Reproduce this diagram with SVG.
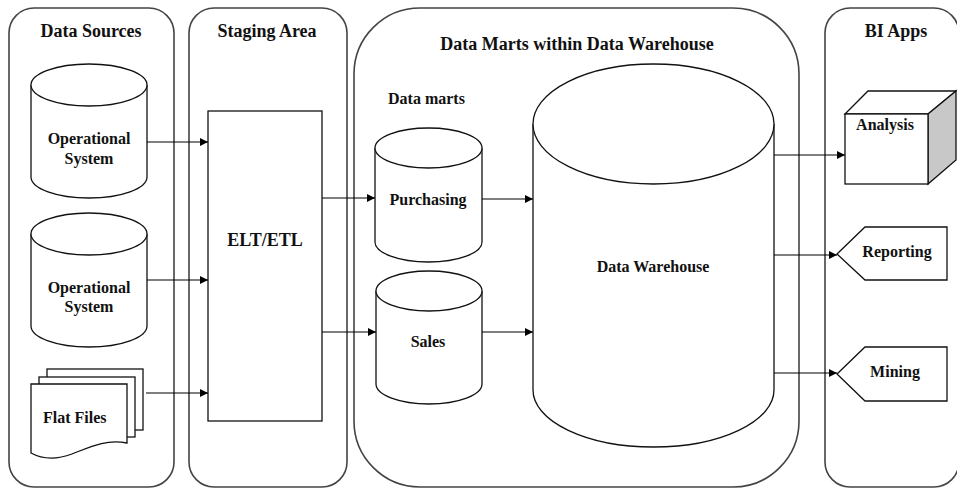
<svg xmlns="http://www.w3.org/2000/svg" width="957" height="488" viewBox="0 0 957 488">
  <defs>
    <marker id="arrow" viewBox="0 0 10 10" refX="10" refY="5" markerWidth="10" markerHeight="8" markerUnits="userSpaceOnUse" orient="auto">
      <path d="M0,0 L10,5 L0,10 Z" fill="#000"/>
    </marker>
  </defs>
  <style>
    .panel { fill: #fff; stroke: #444; stroke-width: 1.6; }
    .shape { fill: #fff; stroke: #111; stroke-width: 1.3; }
    .title { font-family: "Liberation Serif", "Times New Roman", serif; font-weight: bold; font-size: 18px; fill: #111; }
    .label { font-family: "Liberation Serif", "Times New Roman", serif; font-weight: bold; font-size: 16px; fill: #111; }
    .mid { text-anchor: middle; }
    .conn { fill: none; stroke: #000; stroke-width: 1.2; marker-end: url(#arrow); }
  </style>
  <rect width="957" height="488" fill="#fff"/>

  <!-- swimlane panels -->
  <g id="panel-sources">
    <rect class="panel" x="9" y="8" width="165" height="479" rx="25" ry="25"/>
    <text class="title mid" x="91" y="37">Data Sources</text>
  </g>
  <g id="panel-staging">
    <rect class="panel" x="189" y="8" width="158" height="479" rx="25" ry="25"/>
    <text class="title mid" x="267" y="37">Staging Area</text>
  </g>
  <g id="panel-marts">
    <rect class="panel" x="354" y="8" width="445" height="479" rx="66" ry="66"/>
    <text class="title mid" x="577" y="50">Data Marts within Data Warehouse</text>
    <text class="label" x="388" y="104">Data marts</text>
  </g>
  <g id="panel-bi">
    <rect class="panel" x="825" y="8" width="134" height="479" rx="25" ry="25"/>
    <text class="title mid" x="896" y="37">BI Apps</text>
  </g>

  <!-- data sources -->
  <g id="op-system-1">
    <path class="shape" d="M31,85 V177 A58,21 0 0 0 147,177 V85"/>
    <ellipse class="shape" cx="89" cy="85" rx="58" ry="21"/>
    <text class="label mid" x="89" y="144">Operational</text>
    <text class="label mid" x="89" y="164">System</text>
  </g>
  <g id="op-system-2">
    <path class="shape" d="M31,234 V326 A58,21 0 0 0 147,326 V234"/>
    <ellipse class="shape" cx="89" cy="234" rx="58" ry="21"/>
    <text class="label mid" x="89" y="293">Operational</text>
    <text class="label mid" x="89" y="312">System</text>
  </g>
  <g id="flat-files">
    <rect class="shape" x="47" y="369" width="96" height="61"/>
    <rect class="shape" x="39" y="377" width="96" height="60"/>
    <path class="shape" d="M31,384 H127 V443 C105,439 90,447 72,454 C56,460 42,459 31,453 Z"/>
    <text class="label" x="43" y="423">Flat Files</text>
  </g>

  <!-- staging -->
  <g id="elt-etl">
    <rect class="shape" x="208" y="111" width="114" height="310"/>
    <text class="title mid" x="265" y="246">ELT/ETL</text>
  </g>

  <!-- data marts -->
  <g id="purchasing">
    <path class="shape" d="M375,148 V242 A53.5,20 0 0 0 482,242 V148"/>
    <ellipse class="shape" cx="428.5" cy="148" rx="53.5" ry="20"/>
    <text class="label mid" x="428" y="205">Purchasing</text>
  </g>
  <g id="sales">
    <path class="shape" d="M376,291 V384 A53,20 0 0 0 482,384 V291"/>
    <ellipse class="shape" cx="429" cy="291" rx="53" ry="20"/>
    <text class="label mid" x="428" y="347">Sales</text>
  </g>
  <g id="data-warehouse">
    <path class="shape" d="M533,124 V390 A120.5,57 0 0 0 774,390 V124"/>
    <ellipse class="shape" cx="653.5" cy="124" rx="120.5" ry="60"/>
    <text class="label mid" x="653" y="272">Data Warehouse</text>
  </g>

  <!-- BI apps -->
  <g id="analysis">
    <polygon class="shape" points="845,114 868,91 956,91 928,114"/>
    <polygon class="shape" points="928,114 956,91 956,160 928,184" style="fill:#c8c8c8"/>
    <rect class="shape" x="845" y="114" width="83" height="70"/>
    <text class="label mid" x="885" y="130">Analysis</text>
  </g>
  <g id="reporting">
    <polygon class="shape" points="837,254 865,227 947,227 947,280 865,280"/>
    <text class="label mid" x="897" y="257">Reporting</text>
  </g>
  <g id="mining">
    <polygon class="shape" points="837,374 865,347 947,347 947,401 865,401"/>
    <text class="label mid" x="895" y="377">Mining</text>
  </g>

  <!-- connectors -->
  <g id="connectors">
    <line class="conn" x1="147" y1="142" x2="208" y2="142"/>
    <line class="conn" x1="147" y1="280" x2="208" y2="280"/>
    <line class="conn" x1="146" y1="393" x2="208" y2="393"/>
    <line class="conn" x1="322" y1="198" x2="375" y2="198"/>
    <line class="conn" x1="322" y1="332" x2="376" y2="332"/>
    <line class="conn" x1="482" y1="199" x2="533" y2="199"/>
    <line class="conn" x1="482" y1="332" x2="533" y2="332"/>
    <line class="conn" x1="774" y1="155" x2="845" y2="155"/>
    <line class="conn" x1="774" y1="255" x2="837" y2="255"/>
    <line class="conn" x1="774" y1="373" x2="837" y2="373"/>
  </g>
</svg>
